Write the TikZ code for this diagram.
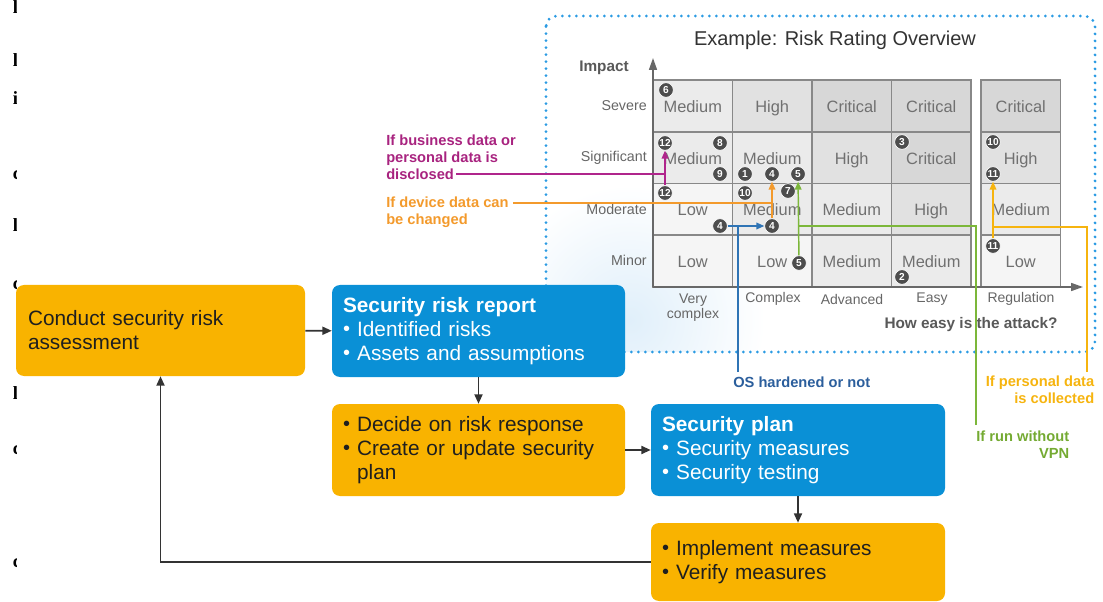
\documentclass[tikz,border=0pt]{standalone}
\usepackage{fontspec}
\setmainfont{Liberation Sans}
\newfontfamily\fragfont{Liberation Serif}
\usetikzlibrary{arrows.meta,calc}

% palette
\definecolor{amber}{HTML}{F9B300}
\definecolor{sapblue}{HTML}{0A90D6}
\definecolor{dotblue}{HTML}{2B9BE3}
\definecolor{hazeblue}{HTML}{E0EFFA}
\definecolor{gridline}{HTML}{888888}
\definecolor{celltext}{HTML}{707070}
\definecolor{lbltext}{HTML}{666666}
\definecolor{axisgray}{HTML}{686868}
\definecolor{fillLow}{HTML}{F5F5F5}
\definecolor{fillMedium}{HTML}{EBEBEB}
\definecolor{fillHigh}{HTML}{E1E1E1}
\definecolor{fillCritical}{HTML}{D7D7D7}
\definecolor{numfill}{HTML}{4D4D4D}
\definecolor{cmag}{HTML}{B0258C}
\definecolor{cmagtxt}{HTML}{A8237F}
\definecolor{corange}{HTML}{F39A2C}
\definecolor{cosblue}{HTML}{2F74B5}
\definecolor{cosbluetxt}{HTML}{2B5E9C}
\definecolor{cgreen}{HTML}{7CB73A}
\definecolor{cgreentxt}{HTML}{74AA32}
\definecolor{cyellow}{HTML}{F6B40F}
\definecolor{flowline}{HTML}{333333}

% bullet with fixed width, so wrapped lines line up after it
\newcommand\itm{\makebox[0.68em][l]{\raisebox{0.02em}{\fontsize{15}{15}\selectfont\textbullet}}}

\begin{document}
\begin{tikzpicture}[x=0.75pt,y=-0.75pt,
  flowbox/.style={rounded corners=6pt, inner ysep=0pt, align=left,
    font=\fontsize{15.6}{18}\selectfont},
  ambox/.style={flowbox, fill=amber, text=black!88},
  blbox/.style={flowbox, fill=sapblue, text=white},
  flowarrow/.style={draw=flowline, line width=1.3pt,
    -{Triangle[length=7pt,width=6pt]}},
  ratecell/.style={draw=gridline, line width=1.4pt, fill=fill#1},
  celltxt/.style={anchor=base, text=celltext, inner sep=0pt,
    font=\fontsize{12.3}{12.3}\selectfont},
  rowlbl/.style={anchor=base east, text=lbltext, inner sep=0pt,
    font=\fontsize{10.7}{10.7}\selectfont},
  collbl/.style={text=lbltext, align=center, inner sep=0pt,
    font=\fontsize{10.5}{11.3}\selectfont},
  axisline/.style={draw=axisgray, line width=1.2pt,
    -{Triangle[length=9pt,width=6pt]}},
  numc/.style={circle, fill=numfill, draw=white, line width=0.5pt,
    text=white, inner sep=0pt, minimum size=11pt,
    font=\bfseries\fontsize{7.6}{7.6}\selectfont},
  linkline/.style={line width=1.1pt},
  linkarrow/.style={line width=1.1pt, -{Triangle[length=6pt,width=5pt]}},
  sidelbl/.style={inner sep=0pt, font=\bfseries\fontsize{11}{12.5}\selectfont},
]
\useasboundingbox (0,0) rectangle (1103,602);

% ---- soft glow inside the example frame
\begin{scope}
  \clip[rounded corners=8pt] (546,16) rectangle (1095,352);
  \shade[inner color=hazeblue, outer color=white] (630,320) circle (135);
\end{scope}

% ---- dotted frame
\draw[dotblue, line width=2.3pt, dash pattern=on 0pt off 5.25pt,
  line cap=round, rounded corners=8pt] (546,16) rectangle (1095,352);

\node[text=black!80, font=\fontsize{15}{15}\selectfont] (title) at (835,40)
  {Example: Risk Rating Overview};

% ---- rating grid
\foreach \x/\y/\t [count=\i] in {
  653/80/Medium, 732.5/80/High, 812/80/Critical, 891.5/80/Critical, 981/80/Critical,
  653/131.75/Medium, 732.5/131.75/Medium, 812/131.75/High, 891.5/131.75/Critical, 981/131.75/High,
  653/183.5/Low, 732.5/183.5/Medium, 812/183.5/Medium, 891.5/183.5/High, 981/183.5/Medium,
  653/235.25/Low, 732.5/235.25/Low, 812/235.25/Medium, 891.5/235.25/Medium, 981/235.25/Low}{
  \draw[ratecell=\t] (\x,\y) rectangle ++(79.5,51.75);
  \node[celltxt] (rc\i) at (\x+39.75,\y+32.5) {\t};
}

% axes
\coordinate (origin) at (653,287);
\coordinate (ytip) at (653,58);
\coordinate (xtip) at (1083,287);
\draw[axisline] (origin) -- (ytip);
\draw[axisline] (origin) -- (xtip);

\node[text=black!65, font=\bfseries\fontsize{11.5}{11.5}\selectfont] (impact) at (604,68) {Impact};
\node[rowlbl] (rSevere) at (647,111) {Severe};
\node[rowlbl] (rSignificant) at (647,162) {Significant};
\node[rowlbl] (rModerate) at (647,215) {Moderate};
\node[rowlbl] (rMinor) at (647,266) {Minor};

\node[collbl] (cVery) at (693,307.5) {Very\\complex};
\node[collbl] (cComplex) at (773,299) {Complex};
\node[collbl] (cAdvanced) at (852,299) {Advanced};
\node[collbl] (cEasy) at (932,299) {Easy};
\node[collbl] (cRegulation) at (1021,299) {Regulation};
\node[text=black!65, font=\bfseries\fontsize{11.5}{11.5}\selectfont] (attack) at (971,325)
  {How easy is the attack?};

% ---- condition labels and their links
\node[sidelbl, text=cmagtxt, anchor=north west, align=left] (lblMag) at (386,135)
  {If business data or\\personal data is\\disclosed};
\coordinate (magstart) at (456,174);
\coordinate (magjoin) at (665,174);
\draw[cmag, linkline] (magstart) -- (magjoin);

\node[sidelbl, text=corange, anchor=north west, align=left] (lblOr) at (386,197)
  {If device data can\\be changed};
\coordinate (orstart) at (513,203);
\coordinate (orjoin) at (772,203);
\draw[corange, linkline] (orstart) -- (orjoin);

\node[sidelbl, text=cosbluetxt, anchor=west] (lblOS) at (733,382) {OS hardened or not};
\coordinate (osstart) at (738,372);
\coordinate (osjoin) at (738,226);
\draw[cosblue, linkline] (osstart) -- (osjoin);

\node[sidelbl, text=cgreentxt, anchor=north east, align=right] (lblVPN) at (1069.5,431)
  {If run without\\VPN};
\coordinate (gstart) at (976,425);
\coordinate (gturn) at (976,226);
\coordinate (gjoin) at (798,226);
\draw[cgreen, linkline] (gstart) -- (gturn) -- (gjoin);

\node[sidelbl, text=cyellow, anchor=north east, align=right] (lblPers) at (1094.5,376)
  {If personal data\\is collected};
\coordinate (ystart) at (1087,372);
\coordinate (yturn) at (1087,227);
\coordinate (yjoin) at (993,227);
\draw[cyellow, linkline] (ystart) -- (yturn) -- (yjoin);

% ---- numbered markers
\node[numc] (c6)   at (666,90)  {6};
\node[numc] (c12a) at (665,143) {12};
\node[numc] (c8)   at (720,143) {8};
\node[numc] (c9)   at (720,174) {9};
\node[numc] (c1)   at (745,174) {1};
\node[numc] (c4a)  at (772,174) {4};
\node[numc] (c5a)  at (798,174) {5};
\node[numc] (c12b) at (665,193) {12};
\node[numc] (c10a) at (745,193) {10};
\node[numc] (c7)   at (788,191) {7};
\node[numc] (c4b)  at (720,226) {4};
\node[numc] (c4c)  at (772,226) {4};
\node[numc] (c5b)  at (799,263) {5};
\node[numc] (c2)   at (902,277) {2};
\node[numc] (c3)   at (902,142) {3};
\node[numc] (c10b) at (993,142) {10};
\node[numc] (c11a) at (993,174) {11};
\node[numc] (c11b) at (993,246) {11};

% rating moves between markers
\draw[cmag, linkarrow] (c12b) -- (c12a);
\draw[corange, linkarrow] (c4c) -- (c4a);
\draw[cosblue, linkarrow] (c4b) -- (c4c);
\draw[cgreen, linkarrow] (c5b) -- (c5a);
\draw[cyellow, linkarrow] (c11b) -- (c11a);

% ---- process flow
\node[ambox, text width=198.75pt, inner xsep=9pt, minimum height=68.25pt]
  (assess) at (160.5,330.5) {Conduct security risk\\assessment};
\node[blbox, text width=203.25pt, inner xsep=8.25pt, minimum height=69pt]
  (report) at (478.5,331) {\textbf{Security risk report}\\\itm Identified risks\\\itm Assets and assumptions};
\node[ambox, text width=203.25pt, inner xsep=8.25pt, minimum height=69pt]
  (decide) at (478.5,450) {\itm Decide on risk response\\\itm Create or update security\\\hspace*{0.68em}plan};
\node[blbox, text width=204pt, inner xsep=8.25pt, minimum height=69pt]
  (plan) at (798,450) {\textbf{Security plan}\\\itm Security measures\\\itm Security testing};
\node[ambox, text width=204pt, inner xsep=8.25pt, minimum height=58.5pt]
  (implement) at (798,562) {\itm Implement measures\\\itm Verify measures};

\draw[flowarrow] (assess) -- (report);
\draw[flowarrow] (report) -- (decide);
\draw[flowarrow] (decide) -- (plan);
\draw[flowarrow] (plan) -- (implement);
\draw[flowarrow] (implement.west) -| (assess.south);

% ---- clipped glyphs along the left edge
\begin{scope}
  \clip (0,0) rectangle (16.5,602);
  \foreach \y/\g [count=\k] in {14/l, 67/l, 105/i, 180/c, 232/l, 290/c, 399/l, 454/c, 567/c}{
    \node[anchor=base west, inner sep=0pt, font=\fragfont\bfseries\fontsize{14}{14}\selectfont] (frag\k) at (12.5,\y) {\g};
  }
\end{scope}
\end{tikzpicture}
\end{document}
